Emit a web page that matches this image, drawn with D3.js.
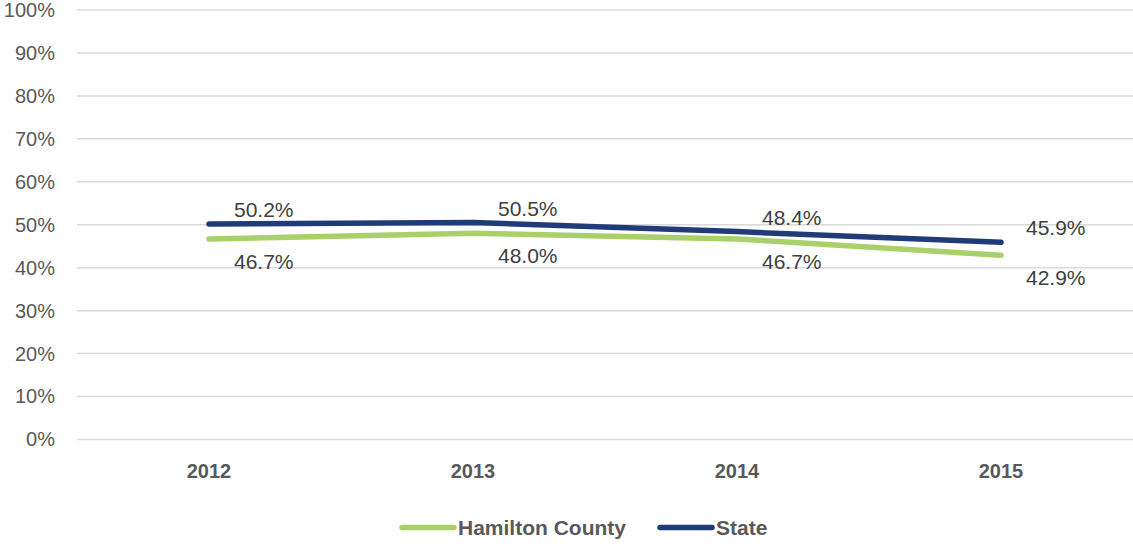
<!DOCTYPE html>
<html>
<head>
<meta charset="utf-8">
<script src="https://cdn.jsdelivr.net/npm/d3@7"></script>
<style>
  html, body { margin: 0; padding: 0; background: #fff; }
  svg { display: block; font-family: "Liberation Sans", Arial, sans-serif; }
</style>
</head>
<body>
<svg id="chart" width="1133" height="544"></svg>
<script>
// Chart data
const years = ["2012", "2013", "2014", "2015"];
const hamiltonCounty = [46.7, 48.0, 46.7, 42.9];
const stateValues = [50.2, 50.5, 48.4, 45.9];
const yTicks = [0, 10, 20, 30, 40, 50, 60, 70, 80, 90, 100];
const seriesNames = ["Hamilton County", "State"];
const seriesColors = ["#a9d16b", "#1f3c78"];

const svg = d3.select("#chart");
const plot = { left: 77, right: 1133, top: 10, bottom: 439.5 };

const x = d3.scaleBand().domain(years).range([plot.left, plot.right]);
const y = d3.scaleLinear().domain([0, 100]).range([plot.bottom, plot.top]);
const cx = d => x(d) + x.bandwidth() / 2;

// Horizontal gridlines
svg.append("g")
  .selectAll("line")
  .data(yTicks)
  .join("line")
  .attr("x1", plot.left)
  .attr("x2", plot.right)
  .attr("y1", d => y(d))
  .attr("y2", d => y(d))
  .attr("stroke", "#d9d9d9")
  .attr("stroke-width", 1.5);

// Y axis labels
const yAxis = d3.axisLeft(y).tickValues(yTicks).tickFormat(d => d + "%").tickSize(0).tickPadding(0);
const yg = svg.append("g").attr("transform", "translate(55,0)").call(yAxis);
yg.select(".domain").remove();
yg.selectAll("text").attr("fill", "#595959").style("font-size", "20px").style("font-family", "inherit");

// X axis labels
const xAxis = d3.axisBottom(x).tickSize(0).tickPadding(0);
const xg = svg.append("g").attr("transform", "translate(0,464)").call(xAxis);
xg.select(".domain").remove();
xg.selectAll("text").attr("fill", "#595959").style("font-size", "20px")
  .style("font-weight", "bold").style("font-family", "inherit");

const series = [
  { name: seriesNames[0], values: hamiltonCounty, color: seriesColors[0], dy: 30 },
  { name: seriesNames[1], values: stateValues, color: seriesColors[1], dy: -7 }
];

const line = d3.line().x((d, i) => cx(years[i])).y(d => y(d));

series.forEach(s => {
  svg.append("path")
    .datum(s.values)
    .attr("d", line)
    .attr("fill", "none")
    .attr("stroke", s.color)
    .attr("stroke-width", 5.5)
    .attr("stroke-linecap", "round")
    .attr("stroke-linejoin", "round");
});

// Data labels
series.forEach(s => {
  svg.append("g")
    .selectAll("text")
    .data(s.values)
    .join("text")
    .attr("x", (d, i) => cx(years[i]) + 25)
    .attr("y", d => y(d) + s.dy)
    .attr("fill", "#404040")
    .style("font-size", "21px")
    .text(d => d.toFixed(1) + "%");
});

// Legend
const legendItems = [
  { name: seriesNames[0], color: seriesColors[0], x: 400 },
  { name: seriesNames[1], color: seriesColors[1], x: 658 }
];
const lg = svg.append("g");
legendItems.forEach(item => {
  lg.append("line")
    .attr("x1", item.x + 2).attr("x2", item.x + 54)
    .attr("y1", 527.5).attr("y2", 527.5)
    .attr("stroke", item.color)
    .attr("stroke-width", 5.5)
    .attr("stroke-linecap", "round");
  lg.append("text")
    .attr("x", item.x + 58)
    .attr("y", 535)
    .attr("fill", "#595959")
    .style("font-size", "21px")
    .style("font-weight", "bold")
    .text(item.name);
});
</script>
</body>
</html>
